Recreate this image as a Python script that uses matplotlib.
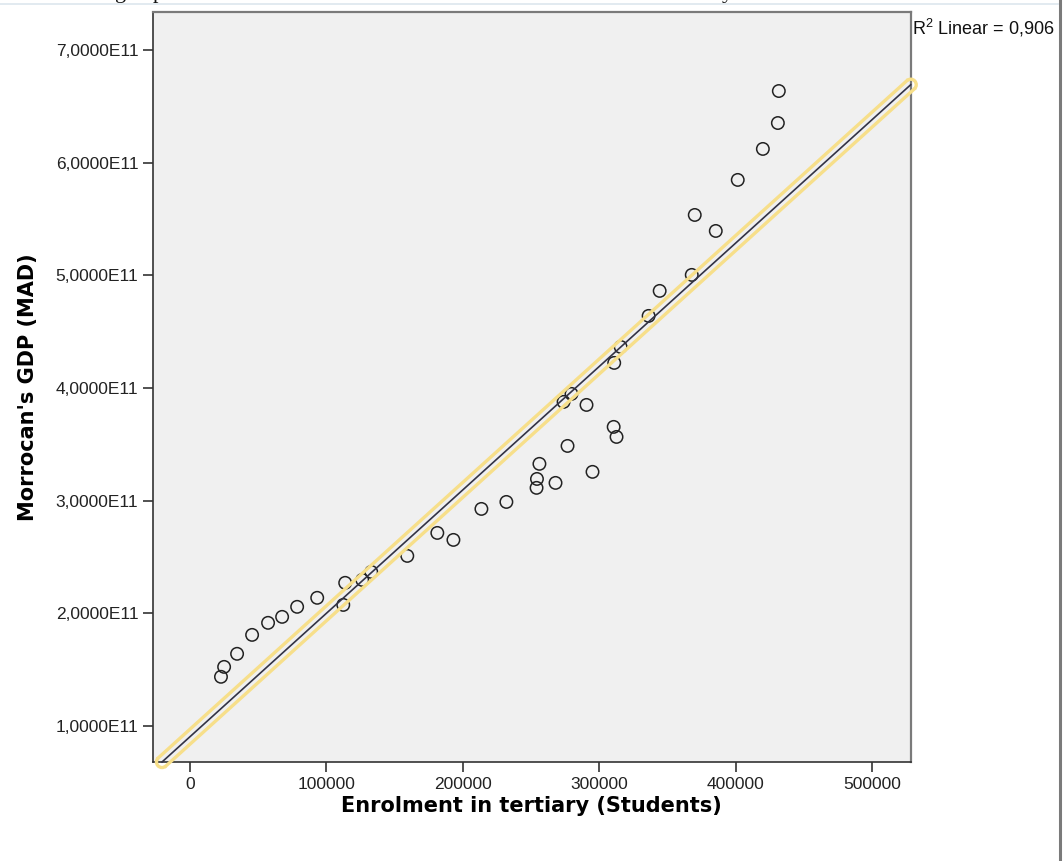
import numpy as np
import matplotlib
matplotlib.use("Agg")
import matplotlib.pyplot as plt
from matplotlib.patches import Arc
from matplotlib.ticker import FuncFormatter
from matplotlib.transforms import ScaledTranslation

plt.rcParams["font.family"] = ["Liberation Sans", "DejaVu Sans"]
plt.rcParams["mathtext.fontset"] = "custom"
plt.rcParams["mathtext.rm"] = "Liberation Sans"

# Enrolment in tertiary education (students) vs GDP (MAD)
enrolment = [22700, 25000, 34500, 45500, 57200, 67500, 78500, 93200, 113700, 112300,
             126200, 132800, 159200, 181200, 193000, 213500, 231800, 253900, 254200, 256000,
             267800, 276600, 294900, 273700, 279500, 290500, 310400, 312500, 310800, 315500,
             336000, 344100, 367600, 369800, 385200, 401300, 419700, 430700, 431400]
gdp_e11 = [1.437, 1.525, 1.641, 1.809, 1.916, 1.969, 2.058, 2.138, 2.271, 2.075,
           2.297, 2.368, 2.510, 2.714, 2.652, 2.927, 2.989, 3.114, 3.193, 3.327,
           3.158, 3.486, 3.256, 3.877, 3.948, 3.850, 3.655, 3.566, 4.223, 4.365,
           4.640, 4.862, 5.004, 5.536, 5.394, 5.847, 6.122, 6.352, 6.636]
r2_label = "0,906"

x_ticks = [0, 100000, 200000, 300000, 400000, 500000]
y_ticks = [1e11, 2e11, 3e11, 4e11, 5e11, 6e11, 7e11]

x = np.array(enrolment, dtype=float)
y = np.array(gdp_e11) * 1e11

fig = plt.figure(figsize=(10.64, 8.61), dpi=100)
ax = fig.add_axes([0.1438, 0.115, 0.7121, 0.8705])
ax.set_facecolor("#f0f0f0")

xmin, xmax = -27100, 528000
ymin, ymax = 0.681e11, 7.333e11
ax.set_xlim(xmin, xmax)
ax.set_ylim(ymin, ymax)

ax.scatter(x, y, s=80, facecolors="none", edgecolors="#222222", linewidths=1.1, zorder=3)

# least-squares fit line, drawn across the plotting range
slope, intercept = np.polyfit(x, y, 1)
x0 = max(xmin, (ymin - intercept) / slope)
x1 = min(xmax, (ymax - intercept) / slope)
fx = np.array([x0, x1])
fy = slope * fx + intercept
ax.plot(fx, fy, color="#333344", lw=1.2, zorder=6, clip_on=False)

# hollow yellow selection outline around the fit line
yellow = "#f7df8a"
off = 4.0 / 72  # inches
p0, p1 = ax.transData.transform(np.column_stack([fx, fy]))
u = (p1 - p0) / np.hypot(*(p1 - p0))
n = np.array([-u[1], u[0]])
for s in (1, -1):
    tr = ax.transData + ScaledTranslation(s * n[0] * off, s * n[1] * off, fig.dpi_scale_trans)
    ax.plot(fx, fy, color=yellow, lw=2.4, transform=tr, zorder=5, clip_on=False)
ang = np.degrees(np.arctan2(n[1], n[0]))
for (cx, cy), t1 in (((fx[0], fy[0]), ang), ((fx[1], fy[1]), ang + 180)):
    cap = Arc((0, 0), 2 * off, 2 * off, theta1=t1, theta2=t1 + 180, color=yellow, lw=2.4,
              transform=fig.dpi_scale_trans + ScaledTranslation(cx, cy, ax.transData),
              zorder=5, clip_on=False)
    ax.add_patch(cap)

ax.set_xticks(x_ticks)
ax.set_yticks(y_ticks)
ax.xaxis.set_major_formatter(FuncFormatter(lambda v, p: f"{int(v)}"))
ax.yaxis.set_major_formatter(FuncFormatter(lambda v, p: f"{v / 1e11:.4f}".replace(".", ",") + "E11"))
ax.tick_params(direction="out", length=7.5, width=1.2, color="#333333",
               labelsize=12.5, labelcolor="#222222", pad=3)

for side in ("left", "bottom"):
    ax.spines[side].set_color("#333333")
    ax.spines[side].set_linewidth(1.2)
for side in ("top", "right"):
    ax.spines[side].set_color("#7a7a7a")
    ax.spines[side].set_linewidth(1.6)

ax.set_xlabel("Enrolment in tertiary (Students)", fontsize=15, fontweight="bold",
              family="DejaVu Sans", labelpad=3)
ax.set_ylabel("Morrocan's GDP (MAD)", fontsize=15, fontweight="bold",
              family="DejaVu Sans", labelpad=12.5)

fig.text(912 / 1064, 1 - 28 / 861, r"R$^{\mathrm{2}}$ Linear = " + r2_label,
         fontsize=13, va="center", ha="left", color="#111111")

# caption line running off the top edge
for gx, glyph in ((115, "g"), (153, "p"), (722, "y")):
    fig.text(gx / 1064, 1 + 1.5 / 861, glyph, fontsize=16, family="Liberation Serif",
             va="baseline", ha="left", color="#111111")

# page border and ruler at the right
fig.add_artist(plt.Line2D([0, 1058 / 1064], [1 - 3.5 / 861] * 2, color="#dde6ee", lw=1.2,
                          transform=fig.transFigure))
fig.add_artist(plt.Line2D([1060 / 1064] * 2, [0, 1], color="#7a7a7a", lw=2.2,
                          transform=fig.transFigure))

fig.savefig("out.png", dpi=100)
